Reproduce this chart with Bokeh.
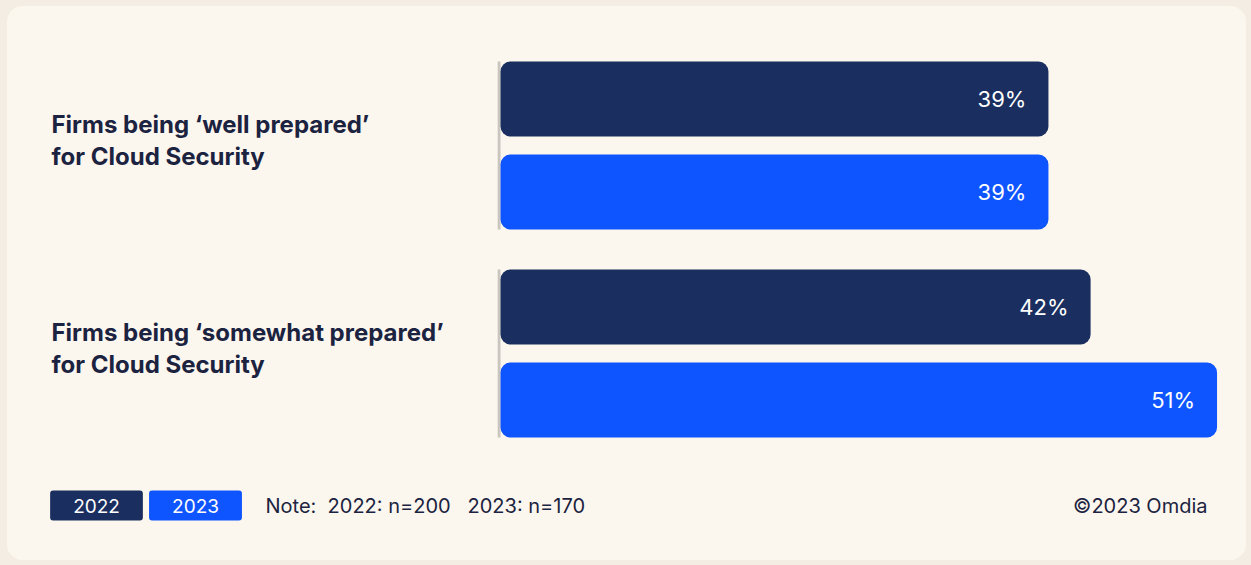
from bokeh.plotting import figure
from bokeh.layouts import column
from bokeh.models import FactorRange, Range1d, Label, ColumnDataSource
from bokeh.core.properties import value
from bokeh.embed import file_html
from bokeh.resources import INLINE

# ---------------- data ----------------
categories = ["Firms being ‘well prepared’", "Firms being ‘somewhat prepared’"]
category_labels = ["Firms being ‘well prepared’\nfor Cloud Security",
                   "Firms being ‘somewhat prepared’\nfor Cloud Security"]
years = ["2022", "2023"]
values_2022 = [39, 42]
values_2023 = [39, 51]
note_text = "Note:\u00a0\u00a02022: n=200\u00a0\u00a0\u00a02023: n=170"
credit_text = "©2023 Omdia"

# ---------------- style ----------------
OUTER = "#f3ede3"
CARD = "#fbf7ee"
NAVY = "#1a2f5f"
BLUE = "#0f55ff"
TEXT = "#1c2340"
GREY = "#c9c6c0"
FONT = "Inter"

M_TOP, M_RIGHT, M_BOTTOM, M_LEFT = 6, 5, 5, 7
W = 1251 - M_LEFT - M_RIGHT
H_CARD = 565 - M_TOP - M_BOTTOM
H1 = 466                       # chart part of the card
H2 = H_CARD - H1               # legend / note row
ZERO_PX = 500 - M_LEFT         # pixel position of value 0 within the card
PPU = 14.05                    # pixels per percentage point
TOP, FRAME_H = 52 - M_TOP, 394
FRAME_BOTTOM = TOP + FRAME_H
BAR_H = 0.806
GROUP_PAD = 0.2366

factors, vals, colors = [], [], []
for cat, v22, v23 in zip(categories, values_2022, values_2023):
    factors += [(cat, years[0]), (cat, years[1])]
    vals += [v22, v23]
    colors += [NAVY, BLUE]
y_range = FactorRange(*list(reversed(factors)), factor_padding=0.0,
                      group_padding=GROUP_PAD, range_padding=0.0)
x_range = Range1d(-ZERO_PX / PPU, (W - ZERO_PX) / PPU)


def style(fig):
    fig.background_fill_color = CARD
    fig.border_fill_color = CARD
    fig.outline_line_color = None
    fig.xaxis.visible = False
    fig.yaxis.visible = False
    fig.xgrid.visible = False
    fig.ygrid.visible = False


p = figure(width=W, height=H1, x_range=x_range, y_range=y_range,
           output_backend="svg", toolbar_location=None,
           min_border_left=0, min_border_right=0,
           min_border_top=TOP, min_border_bottom=H1 - FRAME_BOTTOM)
style(p)

src = ColumnDataSource(dict(y=factors, v=vals, c=colors,
                            lab=[f"{v}%" for v in vals]))

# axis stubs (one per group)
p.rect(x=-0.1, y=categories, width=0.2, height=1 + BAR_H,
       fill_color=GREY, line_color=None)

p.hbar(y="y", left=0, right="v", height=BAR_H, source=src,
       fill_color="c", line_color=None, border_radius=10)

p.text(x="v", y="y", text="lab", source=src, x_offset=-22,
       text_align="right", text_baseline="middle",
       text_color="white", text_font=value(FONT), text_font_size="22px")

p.text(x=0, y=categories, text=category_labels, x_offset=-(ZERO_PX - (51 - M_LEFT)),
       y_offset=-5, text_align="left", text_baseline="middle",
       text_color=TEXT, text_font=value(FONT), text_font_size="24px",
       text_font_style="bold", text_line_height=1.1)

# ---------------- legend / note row ----------------
p2 = figure(width=W, height=H2, x_range=Range1d(0, W), y_range=Range1d(H2, 0),
            output_backend="svg", toolbar_location=None,
            min_border_left=0, min_border_right=0,
            min_border_top=0, min_border_bottom=0)
style(p2)
# an invisible glyph so the figure has a renderer
p2.scatter(x=[0], y=[0], size=0, alpha=0)

ROW_Y = 505 - M_TOP - H1
for i, (yr, col) in enumerate(zip(years, [NAVY, BLUE])):
    cx = 96 + i * 99 - M_LEFT
    p2.add_layout(Label(x=cx, y=ROW_Y, text=yr, text_align="center",
                        text_baseline="middle", text_color="white",
                        text_font=FONT, text_font_size="19px",
                        background_fill_color=col, background_fill_alpha=1,
                        border_radius=3, padding=(23, 8)))

p2.add_layout(Label(x=265 - M_LEFT, y=ROW_Y, text=note_text, text_align="left",
                    text_baseline="middle", text_color=TEXT,
                    text_font=FONT, text_font_size="20px"))
p2.add_layout(Label(x=1207 - M_LEFT, y=ROW_Y, text=credit_text, text_align="right",
                    text_baseline="middle", text_color=TEXT,
                    text_font=FONT, text_font_size="20px"))

card = column(p, p2, spacing=0, margin=(M_TOP, M_RIGHT, M_BOTTOM, M_LEFT),
              styles={"background-color": CARD, "border-radius": "16px",
                      "overflow": "hidden"})
layout = column(card, styles={"background-color": OUTER})
open("out.html", "w").write(file_html(layout, INLINE))
